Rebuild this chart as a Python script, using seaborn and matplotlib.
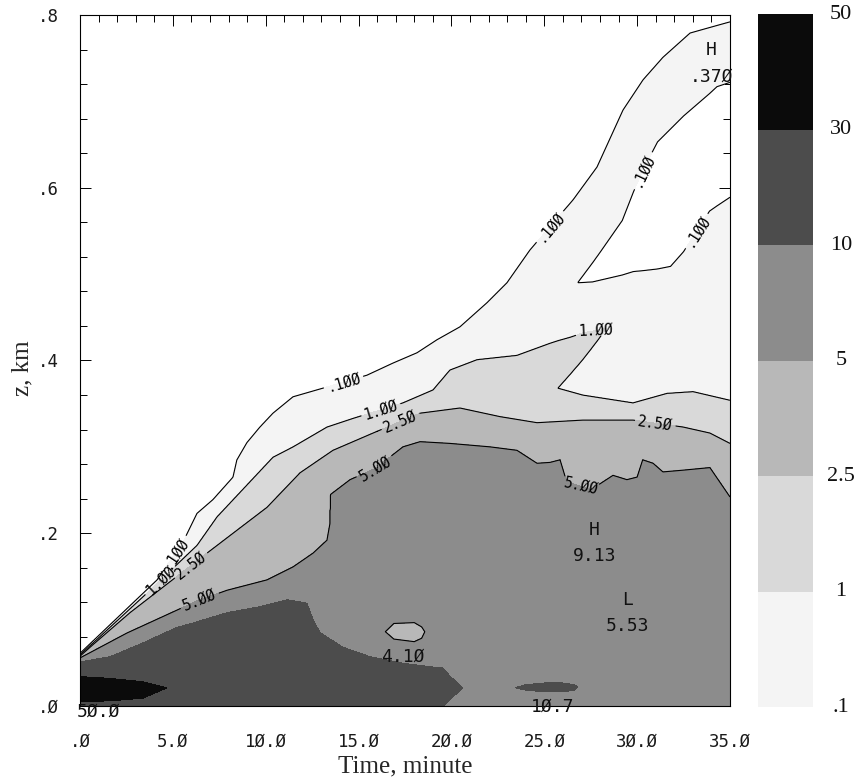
import numpy as np
import matplotlib
matplotlib.use("Agg")
import matplotlib.pyplot as plt
from matplotlib.ticker import FixedLocator, MultipleLocator
import seaborn as sns

sns.set_theme(style="ticks")
plt.rcParams["font.family"] = ["DejaVu Sans Mono", "DejaVu Sans"]
plt.rcParams["axes.linewidth"] = 0.8
SERIF = ["Liberation Serif", "DejaVu Serif"]

# ---------------------------------------------------------------- levels
levels = [0.1, 1.0, 2.5, 5.0, 10.0, 30.0, 50.0]
level_names = [".1", "1", "2.5", "5", "10", "30", "50"]
shades = ["#f4f4f4", "#d9d9d9", "#b8b8b8", "#8c8c8c", "#4c4c4c", "#0b0b0b"]
line_levels = [0.1, 1.0, 2.5, 5.0]

# ------------------------------------------- isoline heights z (km) vs t (min)
# .1 isoline, outer edge of the plume
iso01_t = [0.0, 4.15, 5.55, 6.30, 7.16, 8.24, 8.45, 8.99, 9.69, 10.39, 11.47,
           13.08, 15.45, 16.85, 18.15, 19.22, 20.46, 21.92, 22.99, 24.23,
           25.31, 26.55, 27.84, 29.24, 30.32, 31.39, 32.85, 35.0]
iso01_z = [0.061, 0.146, 0.190, 0.223, 0.239, 0.265, 0.285, 0.305, 0.323,
           0.339, 0.358, 0.368, 0.383, 0.397, 0.409, 0.424, 0.439, 0.467,
           0.490, 0.528, 0.555, 0.586, 0.624, 0.690, 0.725, 0.751, 0.779, 0.792]
# clear wedge (< .1) reaching in from the right: its lower and upper .1 isolines
wedge_t = [26.8, 27.6, 28.0, 29.2, 29.8, 30.3, 31.1, 31.8, 32.5, 33.2, 33.9, 34.3, 35.0]
wedge_lo = [0.490, 0.491, 0.493, 0.499, 0.503, 0.504, 0.506, 0.509, 0.526,
            0.550, 0.573, 0.579, 0.589]
wedge_hi = [0.490, 0.513, 0.525, 0.562, 0.595, 0.620, 0.653, 0.668, 0.683,
            0.696, 0.709, 0.717, 0.722]
# 1 isoline
iso1_t = [0.0, 3.77, 6.30, 7.38, 10.39, 11.47, 13.30, 14.70, 17.39, 19.01,
          19.92, 21.38, 23.53, 25.31, 25.74, 27.08, 29.78, 31.61, 33.01, 35.0]
iso1_z = [0.059, 0.134, 0.186, 0.219, 0.288, 0.300, 0.323, 0.333, 0.351,
          0.366, 0.389, 0.401, 0.406, 0.420, 0.368, 0.360, 0.351, 0.362,
          0.364, 0.354]
# tongue above 1 pointing up to the right
tongue_t = [25.31, 25.74, 26.4, 27.08, 27.8, 28.38]
tongue_lo = [0.368, 0.368, 0.384, 0.401, 0.421, 0.438]
tongue_hi = [0.420, 0.423, 0.427, 0.432, 0.435, 0.438]
# 2.5 isoline
iso25_t = [0.0, 2.69, 6.84, 8.24, 10.07, 11.85, 13.62, 15.78, 18.31, 20.46,
           22.62, 24.61, 27.08, 29.78, 32.47, 33.92, 35.0]
iso25_z = [0.058, 0.108, 0.177, 0.200, 0.230, 0.270, 0.296, 0.316, 0.339,
           0.345, 0.335, 0.328, 0.331, 0.331, 0.323, 0.316, 0.304]
# 5 isoline
iso5_t = [0.0, 2.53, 6.30, 7.92, 10.07, 11.47, 12.55, 13.30, 13.45, 13.50,
          14.54, 15.9, 17.39, 18.31, 19.92, 22.08, 23.53, 24.61, 25.31, 25.85,
          26.2, 27.5, 28.70, 29.45, 30.0, 30.3, 30.86, 31.39, 32.47, 33.92, 35.0]
iso5_z = [0.0556, 0.0845, 0.1216, 0.134, 0.146, 0.161, 0.177, 0.192, 0.210,
          0.245, 0.262, 0.275, 0.300, 0.306, 0.304, 0.300, 0.296, 0.281,
          0.282, 0.285, 0.260, 0.250, 0.267, 0.262, 0.265, 0.285, 0.281,
          0.271, 0.273, 0.276, 0.242]
# 10 region near the ground: upper and lower edges
iso10_t = [0.0, 1.62, 3.39, 5.22, 6.08, 7.92, 9.69, 11.15, 12.22, 12.55,
           12.92, 14.16, 15.62, 17.23, 19.0, 19.55, 19.9, 20.62]
iso10_hi = [0.051, 0.057, 0.073, 0.091, 0.096, 0.108, 0.115, 0.123, 0.119,
            0.100, 0.085, 0.068, 0.057, 0.050, 0.045, 0.044, 0.035, 0.021]
iso10_lo = [-0.05, -0.05, -0.05, -0.05, -0.05, -0.05, -0.05, -0.05, -0.05,
            -0.05, -0.05, -0.05, -0.05, -0.05, -0.05, 0.0, 0.007, 0.021]
# 30+ core at the start
core_t = [0.0, 1.62, 3.39, 4.68]
core_hi = [0.034, 0.032, 0.028, 0.021]
core_lo = [0.005, 0.006, 0.009, 0.021]
core_peak = 50.0
# small 10+ cell near the ground
cell_t = [23.15, 24.0, 25.0, 26.0, 26.6, 26.92]
cell_hi = [0.021, 0.026, 0.028, 0.028, 0.026, 0.022]
cell_lo = [0.021, 0.017, 0.015, 0.015, 0.017, 0.022]
cell_peak = 10.7
# weak pocket inside the 5-10 body
gap_t = [16.42, 16.9, 18.0, 18.4, 18.58]
gap_hi = [0.086, 0.096, 0.097, 0.092, 0.086]
gap_lo = [0.086, 0.077, 0.074, 0.078, 0.086]
gap_min = 4.10
# marked highs and lows
hl_kind = ["H", "H", "L"]
hl_t = [33.98, 27.7, 29.5]
hl_z = [0.759, 0.204, 0.123]
hl_value = [0.370, 9.13, 5.53]

x_ticks = [0, 5, 10, 15, 20, 25, 30, 35]
y_ticks = [0.0, 0.2, 0.4, 0.6, 0.8]


def ncar(v):
    """Number text in the plotting package style, slashed zeros."""
    if v < 1:
        s = f"{v:.3f}"[1:]
    elif v < 10:
        s = f"{v:.2f}"
    else:
        s = f"{v:.1f}"
    return s.replace("0", "\u00d8")


def tick_text(v):
    s = f"{v:.1f}"
    if s.startswith("0"):
        s = s[1:]
    return s.replace("0", "\u00d8")


# ------------------------------------------------------------ build the field
t_axis = np.linspace(0.0, 35.0, 1401)
z_axis = np.linspace(0.0, 0.8, 1201)
TT, ZZ = np.meshgrid(t_axis, z_axis)
RAMP = 0.0035


def edge(tn, zn):
    return np.interp(t_axis, tn, zn, left=np.nan, right=np.nan)[None, :]


def under(tn, zn):
    e = edge(tn, zn)
    return np.nan_to_num(np.clip(0.5 + (e - ZZ) / RAMP, 0.0, 1.0))


def between(tn, zlo, zhi):
    lo, hi = edge(tn, zlo), edge(tn, zhi)
    r = np.minimum(np.clip(0.5 + (hi - ZZ) / RAMP, 0.0, 1.0),
                   np.clip(0.5 + (ZZ - lo) / RAMP, 0.0, 1.0))
    return np.nan_to_num(r)


k_anchor = [0.0, 0.5, 1.5, 2.5, 3.5, 4.5, 5.5, 6.0]
v_anchor = [0.01, 0.1, 1.0, 2.5, 5.0, 10.0, 30.0, 50.0]
logv = np.log10(v_anchor)


def k_of(v):
    return float(np.interp(np.log10(v), logv, k_anchor))


ind01 = np.minimum(under(iso01_t, iso01_z), 1.0 - between(wedge_t, wedge_lo, wedge_hi))
ind1 = np.maximum(under(iso1_t, iso1_z), between(tongue_t, tongue_lo, tongue_hi))
ind25 = under(iso25_t, iso25_z)
ind5 = np.minimum(under(iso5_t, iso5_z),
                  1.0 - (4.0 - k_of(gap_min)) * between(gap_t, gap_lo, gap_hi))
ind10 = np.maximum(between(iso10_t, iso10_lo, iso10_hi),
                   (k_of(cell_peak) - 4.0) * between(cell_t, cell_lo, cell_hi))
ind30 = (k_of(core_peak) - 5.0) * between(core_t, core_lo, core_hi)

k = ind01 + ind1 + ind25 + ind5 + ind10 + ind30
for mt, mz, mv in zip(hl_t, hl_z, hl_value):
    i = np.argmin(np.abs(z_axis - mz))
    j = np.argmin(np.abs(t_axis - mt))
    k = k + (k_of(mv) - k[i, j]) * np.exp(-((TT - mt) / 1.6) ** 2 - ((ZZ - mz) / 0.035) ** 2)

value = np.minimum(10 ** np.interp(k, k_anchor, logv), 50.0)

# ------------------------------------------------------------------- drawing
fig = plt.figure(figsize=(8.59, 7.84), dpi=100)
ax = fig.add_axes([0.0931, 0.0995, 0.7567, 0.8814])
cax = fig.add_axes([0.8824, 0.0982, 0.0640, 0.8839])

cmap_colors = sns.color_palette(shades)
cf = ax.contourf(TT, ZZ, value, levels=levels, colors=cmap_colors)
cs = ax.contour(TT, ZZ, value, levels=line_levels, colors="black", linewidths=0.8)

label_spots = [(5.2, 0.176), (14.2, 0.374), (25.3, 0.555), (30.3, 0.620), (33.2, 0.550),
               (4.3, 0.146), (16.2, 0.343), (27.8, 0.430),
               (6.0, 0.162), (17.2, 0.333), (31.0, 0.331),
               (6.4, 0.125), (15.9, 0.275), (27.0, 0.256)]
ax.clabel(cs, fmt={lv: ncar(lv) for lv in line_levels}, manual=label_spots,
          inline=True, inline_spacing=3, fontsize=10.5, colors="black")

for kind, mt, mz, mv in zip(hl_kind, hl_t, hl_z, hl_value):
    ax.text(mt, mz, kind, ha="center", va="center", fontsize=13, color="#111111",
            clip_on=False, zorder=5)
    ax.annotate(ncar(mv), (mt, mz), xytext=(0, -19), textcoords="offset points",
                ha="center", va="center", fontsize=13, color="#111111",
                annotation_clip=False, zorder=5)

extreme_text = [(core_peak, 1.02, -0.006), (cell_peak, 25.47, -0.001), (gap_min, 17.4, 0.057)]
for v, tx, tz in extreme_text:
    ax.text(tx, tz, ncar(v), ha="center", va="center", fontsize=13,
            color="#111111", clip_on=False, zorder=5)

ax.set_xlim(0, 35)
ax.set_ylim(0, 0.8)
ax.xaxis.set_major_locator(FixedLocator(x_ticks))
ax.xaxis.set_minor_locator(MultipleLocator(1))
ax.yaxis.set_major_locator(FixedLocator(y_ticks))
ax.yaxis.set_minor_locator(MultipleLocator(0.04))
ax.set_xticklabels([tick_text(v) for v in x_ticks])
ax.set_yticklabels([tick_text(v) for v in y_ticks])
ax.tick_params(which="both", direction="in", top=True, right=True, bottom=True,
               left=True, width=0.7, color="black", labelcolor="#1a1a1a")
ax.tick_params(which="major", length=8)
ax.tick_params(which="minor", length=5)
ax.tick_params(axis="x", which="major", pad=19, labelsize=12.5)
ax.tick_params(axis="y", which="major", pad=15, labelsize=12.5)
for sp in ax.spines.values():
    sp.set_color("black")
    sp.set_linewidth(0.8)

ax.set_xlabel("Time, minute", family=SERIF, fontsize=18)
ax.xaxis.set_label_coords(0.5, -0.072)
ax.set_ylabel("z, km", family=SERIF, fontsize=18)
ax.yaxis.set_label_coords(-0.072, 0.489)

cb = fig.colorbar(cf, cax=cax)
cb.outline.set_visible(False)
cb.set_ticks([])
for i, name in enumerate(level_names):
    cax.text(1.51, i / (len(level_names) - 1), name, transform=cax.transAxes,
             ha="center", va="center", family=SERIF, fontsize=16, color="#111111")

fig.savefig("out.png", dpi=100)
